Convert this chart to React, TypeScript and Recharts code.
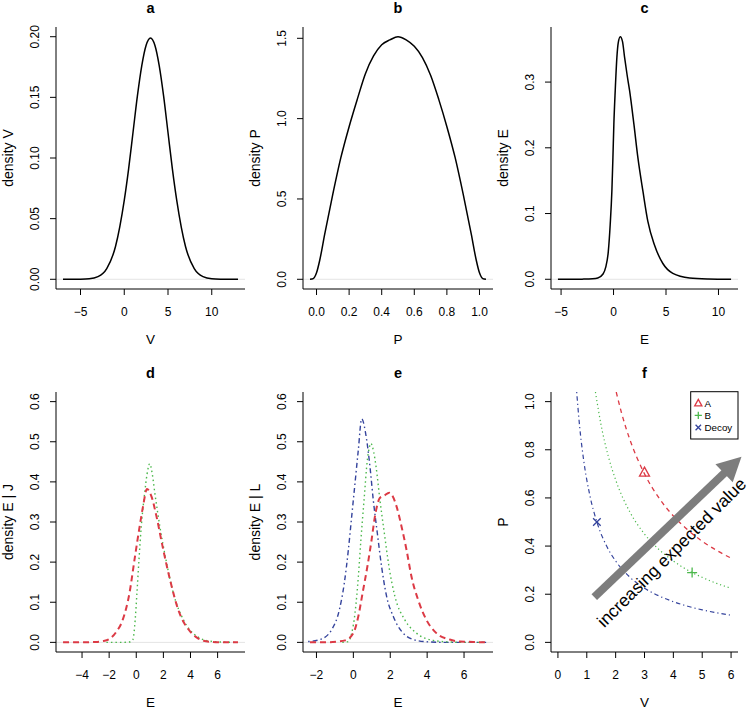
import React from 'react';
import { ComposedChart, Line, Scatter, XAxis, YAxis, ReferenceLine } from 'recharts';

const FONT = '"Liberation Sans", Arial, Helvetica, sans-serif';
const RED = '#dc3a45';
const GREEN = '#4cb84c';
const BLUE = '#34439c';
const GREY = '#7d7d7d';

// a: density of V
const vGrid = [-7, -6, -5, -4, -3, -2, -1, 0, 0.5, 1, 1.5, 2, 2.5, 3, 3.5, 4, 4.5, 5, 5.5, 6, 7, 8, 9, 10, 11, 12, 13];
const vDensity = [0, 0.00003, 0.0001, 0.0004, 0.0022, 0.0088, 0.027, 0.065, 0.091, 0.121, 0.151, 0.176, 0.193, 0.199, 0.193, 0.176, 0.151, 0.121, 0.091, 0.065, 0.027, 0.0088, 0.0022, 0.0004, 0.0001, 0.00003, 0];

// b: density of P
const pGrid = [-0.04, -0.02, 0, 0.02, 0.05, 0.1, 0.15, 0.2, 0.25, 0.3, 0.35, 0.4, 0.45, 0.5, 0.55, 0.6, 0.65, 0.7, 0.75, 0.8, 0.85, 0.9, 0.95, 0.98, 1.0, 1.02, 1.04];
const pDensity = [0, 0.004, 0.04, 0.12, 0.28, 0.53, 0.76, 0.95, 1.12, 1.28, 1.39, 1.46, 1.49, 1.51, 1.49, 1.45, 1.38, 1.27, 1.12, 0.95, 0.76, 0.53, 0.28, 0.12, 0.04, 0.004, 0];

// c: density of E
const eGridC = [-5.3, -4, -3, -2, -1.5, -1, -0.75, -0.5, -0.32, -0.16, -0.06, 0.03, 0.16, 0.32, 0.45, 0.64, 0.85, 1.05, 1.3, 1.53, 1.94, 2.32, 2.8, 3.27, 3.9, 4.7, 5.65, 7.25, 9, 11.2];
const eDensityC = [0, 0, 0.0002, 0.0008, 0.002, 0.008, 0.018, 0.042, 0.083, 0.134, 0.185, 0.236, 0.287, 0.338, 0.36, 0.369, 0.362, 0.338, 0.31, 0.287, 0.236, 0.185, 0.134, 0.088, 0.052, 0.024, 0.009, 0.002, 0.0005, 0];

// d: density E | J  (A dashed, B dotted)
const eGridJA = [-5.4, -4, -3, -2.5, -2, -1.5, -1, -0.5, -0.13, 0.25, 0.5, 0.79, 1.12, 1.49, 1.99, 2.49, 3.1, 3.5, 3.98, 4.5, 4.97, 5.5, 6.5, 7.5];
const densJA = [0, 0.0003, 0.001, 0.003, 0.008, 0.025, 0.056, 0.123, 0.206, 0.289, 0.339, 0.382, 0.364, 0.314, 0.231, 0.156, 0.081, 0.05, 0.027, 0.011, 0.004, 0.0015, 0.0003, 0];
const eGridJB = [-2.2, -1, -0.5, -0.25, -0.08, 0.05, 0.2, 0.37, 0.62, 0.8, 0.99, 1.18, 1.37, 1.74, 2.19, 2.73, 3.48, 4.48, 5.47, 6.5, 7.5];
const densJB = [0, 0, 0.001, 0.007, 0.056, 0.123, 0.206, 0.289, 0.372, 0.42, 0.445, 0.42, 0.372, 0.289, 0.206, 0.123, 0.056, 0.015, 0.003, 0.0005, 0];

// e: density E | L  (A dashed, B dotted, Decoy dot-dash)
const eGridLA = [-2.35, -1.6, -0.9, -0.45, 0, 0.27, 0.5, 0.76, 0.99, 1.17, 1.44, 1.65, 1.95, 2.34, 2.61, 2.88, 3.15, 3.51, 3.96, 4.5, 5.22, 5.77, 6.5, 7.2];
const densLA = [0, 0, 0.002, 0.005, 0.023, 0.065, 0.123, 0.189, 0.256, 0.314, 0.36, 0.365, 0.373, 0.339, 0.289, 0.231, 0.164, 0.106, 0.056, 0.023, 0.007, 0.002, 0.001, 0];
const eGridLB = [-0.6, -0.27, -0.09, 0.09, 0.27, 0.41, 0.58, 0.76, 0.86, 0.95, 1.1, 1.23, 1.44, 1.68, 1.93, 2.25, 2.79, 3.42, 4.32, 5.2, 6.2, 7.2];
const densLB = [0, 0.002, 0.023, 0.073, 0.164, 0.256, 0.355, 0.455, 0.485, 0.496, 0.475, 0.438, 0.355, 0.272, 0.189, 0.115, 0.056, 0.023, 0.005, 0.001, 0, 0];
const eGridLD = [-2.45, -1.8, -1.17, -0.76, -0.49, -0.27, -0.09, 0.09, 0.27, 0.45, 0.72, 0.9, 1.08, 1.3, 1.53, 1.8, 2.16, 2.7, 3.42, 4.14, 5, 6, 7.2];
const densLD = [0.002, 0.007, 0.032, 0.081, 0.148, 0.231, 0.314, 0.397, 0.48, 0.557, 0.505, 0.438, 0.355, 0.272, 0.189, 0.115, 0.065, 0.023, 0.005, 0.001, 0, 0, 0];

// f: iso expected value curves and options
const isoVA = [2.02, 2.2, 2.5, 2.75, 3, 3.5, 4, 4.5, 5, 5.5, 6];
const isoPA = [1.04, 0.955, 0.84, 0.764, 0.7, 0.6, 0.525, 0.467, 0.42, 0.382, 0.35];
const isoVB = [1.3, 1.5, 1.75, 2, 2.5, 3, 3.5, 4, 4.65, 5, 5.5, 6];
const isoPB = [1.04, 0.9, 0.771, 0.675, 0.54, 0.45, 0.386, 0.338, 0.29, 0.27, 0.245, 0.225];
const isoVD = [0.65, 0.75, 0.9, 1.1, 1.35, 1.7, 2, 2.5, 3, 3.5, 4, 4.5, 5, 5.5, 6];
const isoPD = [1.04, 0.9, 0.75, 0.614, 0.5, 0.397, 0.338, 0.27, 0.225, 0.193, 0.169, 0.15, 0.135, 0.123, 0.113];
const optionNames = ['A', 'B', 'Decoy'];
const optionV = [3.0, 4.65, 1.35];
const optionP = [0.705, 0.29, 0.5];
const arrowV = [1.26, 6.36];
const arrowP = [0.188, 0.771];

type Pt = { x: number; y: number };
const zip = (xs: number[], ys: number[]): Pt[] => xs.map((x, i) => ({ x, y: ys[i] }));

const fmtInt = (v: number) => (v < 0 ? '\u2212' + Math.abs(v) : String(v));
const fmt1 = (v: number) => v.toFixed(1);
const fmt2 = (v: number) => v.toFixed(2);

interface Curve {
  data: Pt[];
  color: string;
  width: number;
  dash?: string;
}

interface PanelProps {
  left: number;
  top: number;
  right: number;
  bottom: number;
  xDomain: [number, number];
  yDomain: [number, number];
  xTicks: number[];
  yTicks: number[];
  xFmt: (v: number) => string;
  yFmt: (v: number) => string;
  curves: Curve[];
  zeroLine?: boolean;
  padRight?: number;
  children?: React.ReactNode;
}

const AX_W = 56;
const TOP_PAD = 27;
const AX_H = 60;
const TICK_FS = 12;

function Panel(p: PanelProps) {
  const padRight = p.padRight ?? 4;
  const w = p.right - p.left + AX_W + padRight;
  const h = p.bottom - p.top + TOP_PAD + AX_H;
  const xTick = (t: any) => (
    <text x={t.x} y={t.y + 21} textAnchor="middle" fontSize={TICK_FS} fontFamily={FONT} fill="#000">
      {p.xFmt(t.payload.value)}
    </text>
  );
  const yTick = (t: any) => {
    const bx = t.x - 10.7;
    return (
      <text x={bx} y={t.y} transform={`rotate(-90 ${bx} ${t.y})`} textAnchor="middle" fontSize={TICK_FS} fontFamily={FONT} fill="#000">
        {p.yFmt(t.payload.value)}
      </text>
    );
  };
  return (
    <div style={{ position: 'absolute', left: p.left - AX_W, top: p.top - TOP_PAD }}>
      <ComposedChart width={w} height={h} margin={{ top: TOP_PAD, right: padRight, bottom: 0, left: 0 }}>
        <XAxis
          type="number"
          dataKey="x"
          domain={p.xDomain}
          allowDataOverflow
          ticks={p.xTicks}
          interval={0}
          height={AX_H}
          tickSize={6}
          tickMargin={0}
          axisLine={{ stroke: '#000' }}
          tickLine={{ stroke: '#000' }}
          tick={xTick}
        />
        <YAxis
          type="number"
          dataKey="y"
          domain={p.yDomain}
          allowDataOverflow
          ticks={p.yTicks}
          interval={0}
          width={AX_W}
          tickSize={6}
          tickMargin={0}
          axisLine={{ stroke: '#000' }}
          tickLine={{ stroke: '#000' }}
          tick={yTick}
        />
        {p.zeroLine ? <ReferenceLine y={0} stroke="#e4e4e4" strokeWidth={1} /> : null}
        {p.curves.map((c, i) => (
          <Line
            key={i}
            data={c.data}
            dataKey="y"
            type="monotone"
            stroke={c.color}
            strokeWidth={c.width}
            strokeDasharray={c.dash}
            dot={false}
            activeDot={false}
            isAnimationActive={false}
          />
        ))}
        {p.children}
      </ComposedChart>
    </div>
  );
}

function ArrowShape(props: any) {
  const { x1, y1, x2, y2 } = props;
  const dx = x2 - x1;
  const dy = y2 - y1;
  const len = Math.hypot(dx, dy) || 1;
  const ux = dx / len;
  const uy = dy / len;
  const nx = -uy;
  const ny = ux;
  const headLen = 24;
  const headHalf = 12.5;
  const bx = x2 - ux * headLen;
  const by = y2 - uy * headLen;
  // caption sits below-right of the shaft, shifted back towards the tail
  const tx = (x1 + x2) / 2 + nx * 21 - ux * 15;
  const ty = (y1 + y2) / 2 + ny * 21 - uy * 15;
  return (
    <g>
      <line x1={x1} y1={y1} x2={bx + ux} y2={by + uy} stroke={GREY} strokeWidth={8} />
      <polygon
        points={`${x2},${y2} ${bx + nx * headHalf},${by + ny * headHalf} ${bx - nx * headHalf},${by - ny * headHalf}`}
        fill={GREY}
      />
      <text
        x={tx}
        y={ty}
        transform={`rotate(-45 ${tx} ${ty})`}
        textAnchor="middle"
        dominantBaseline="central"
        fontSize={17.5}
        fontFamily={FONT}
        fill="#000"
      >
        increasing expected value
      </text>
    </g>
  );
}

const triangleShape = (s: any) => {
  const k = s.k ?? 1;
  return (
    <path
      d={`M${s.cx},${s.cy - 5.5 * k} L${s.cx + 5 * k},${s.cy + 3.5 * k} L${s.cx - 5 * k},${s.cy + 3.5 * k} Z`}
      fill="none"
      stroke={RED}
      strokeWidth={1.3}
    />
  );
};
const plusShape = (s: any) => {
  const k = s.k ?? 1;
  return <path d={`M${s.cx - 5 * k},${s.cy} H${s.cx + 5 * k} M${s.cx},${s.cy - 5 * k} V${s.cy + 5 * k}`} stroke={GREEN} strokeWidth={1.3} />;
};
const crossShape = (s: any) => {
  const r = 3.8 * (s.k ?? 1);
  return (
    <path
      d={`M${s.cx - r},${s.cy - r} L${s.cx + r},${s.cy + r} M${s.cx - r},${s.cy + r} L${s.cx + r},${s.cy - r}`}
      stroke={BLUE}
      strokeWidth={1.3}
    />
  );
};
const optionShapes = [triangleShape, plusShape, crossShape];

const TOP = { top: 27, bottom: 289 };
const BOT = { top: 392, bottom: 652 };
const COLS = [
  { left: 56, right: 245 },
  { left: 303, right: 493 },
  { left: 551, right: 738 },
];

const titles = ['a', 'b', 'c', 'd', 'e', 'f'];
const xTitles = ['V', 'P', 'E', 'E', 'E', 'V'];
const yTitles = ['density V', 'density P', 'density E', 'density E | J', 'density E | L', 'P'];

function Overlay() {
  const rows = [TOP, BOT];
  const items: React.ReactNode[] = [];
  titles.forEach((t, i) => {
    const row = rows[Math.floor(i / 3)];
    const col = COLS[i % 3];
    const cx = (col.left + col.right) / 2;
    const cy = (row.top + row.bottom) / 2;
    items.push(
      <text key={'t' + i} x={cx} y={row.top - 14} textAnchor="middle" fontSize={14.5} fontWeight="bold" fontFamily={FONT}>
        {t}
      </text>,
      <text key={'x' + i} x={cx} y={row.bottom + 55} textAnchor="middle" fontSize={13.5} fontFamily={FONT}>
        {xTitles[i]}
      </text>,
      <text
        key={'y' + i}
        x={col.left - 43}
        y={cy}
        transform={`rotate(-90 ${col.left - 43} ${cy})`}
        textAnchor="middle"
        fontSize={14}
        fontFamily={FONT}
      >
        {yTitles[i]}
      </text>
    );
  });
  // legend of panel f
  const lx = 690.7;
  const ly = 391.7;
  const rowsY = [403.3, 415.3, 427.5];
  items.push(<rect key="lg" x={lx} y={ly} width={47.3} height={47.3} fill="#fff" stroke="#000" strokeWidth={1} />);
  optionNames.forEach((n, i) => {
    const cy = rowsY[i];
    items.push(
      <g key={'lg' + i}>
        {optionShapes[i]({ cx: 698.3, cy: cy, k: 0.72 })}
        <text x={704.5} y={cy + 3.5} fontSize={9.8} fontFamily={FONT}>
          {n}
        </text>
      </g>
    );
  });
  return (
    <svg width={750} height={709} style={{ position: 'absolute', left: 0, top: 0, pointerEvents: 'none' }}>
      {items}
    </svg>
  );
}

export default function App() {
  return (
    <div style={{ position: 'absolute', left: 0, top: 0, width: 750, height: 709, background: '#fff', overflow: 'hidden' }}>
      <Panel
        {...COLS[0]}
        {...TOP}
        xDomain={[-7.8, 13.8]}
        yDomain={[-0.008, 0.208]}
        xTicks={[-5, 0, 5, 10]}
        yTicks={[0, 0.05, 0.1, 0.15, 0.2]}
        xFmt={fmtInt}
        yFmt={fmt2}
        zeroLine
        curves={[{ data: zip(vGrid, vDensity), color: '#000', width: 1.5 }]}
      />
      <Panel
        {...COLS[1]}
        {...TOP}
        xDomain={[-0.083, 1.083]}
        yDomain={[-0.0604, 1.5704]}
        xTicks={[0, 0.2, 0.4, 0.6, 0.8, 1.0]}
        yTicks={[0, 0.5, 1.0, 1.5]}
        xFmt={fmt1}
        yFmt={fmt1}
        zeroLine
        curves={[{ data: zip(pGrid, pDensity), color: '#000', width: 1.5 }]}
      />
      <Panel
        {...COLS[2]}
        {...TOP}
        xDomain={[-5.96, 11.86]}
        yDomain={[-0.0148, 0.3838]}
        xTicks={[-5, 0, 5, 10]}
        yTicks={[0, 0.1, 0.2, 0.3]}
        xFmt={fmtInt}
        yFmt={fmt1}
        zeroLine
        curves={[{ data: zip(eGridC, eDensityC), color: '#000', width: 1.5 }]}
      />
      <Panel
        {...COLS[0]}
        {...BOT}
        xDomain={[-5.92, 8.02]}
        yDomain={[-0.024, 0.624]}
        xTicks={[-4, -2, 0, 2, 4, 6]}
        yTicks={[0, 0.1, 0.2, 0.3, 0.4, 0.5, 0.6]}
        xFmt={fmtInt}
        yFmt={fmt1}
        zeroLine
        curves={[
          { data: zip(eGridJB, densJB), color: GREEN, width: 1.4, dash: '1.5 3' },
          { data: zip(eGridJA, densJA), color: RED, width: 2, dash: '6 4' },
        ]}
      />
      <Panel
        {...COLS[1]}
        {...BOT}
        xDomain={[-2.73, 7.57]}
        yDomain={[-0.024, 0.624]}
        xTicks={[-2, 0, 2, 4, 6]}
        yTicks={[0, 0.1, 0.2, 0.3, 0.4, 0.5, 0.6]}
        xFmt={fmtInt}
        yFmt={fmt1}
        zeroLine
        curves={[
          { data: zip(eGridLD, densLD), color: BLUE, width: 1.4, dash: '1.5 3 5 3' },
          { data: zip(eGridLB, densLB), color: GREEN, width: 1.4, dash: '1.5 3' },
          { data: zip(eGridLA, densLA), color: RED, width: 2, dash: '6 4' },
        ]}
      />
      <Panel
        {...COLS[2]}
        {...BOT}
        xDomain={[-0.24, 6.24]}
        yDomain={[-0.04, 1.04]}
        xTicks={[0, 1, 2, 3, 4, 5, 6]}
        yTicks={[0, 0.2, 0.4, 0.6, 0.8, 1.0]}
        xFmt={fmtInt}
        yFmt={fmt1}
        padRight={12}
        curves={[
          { data: zip(isoVD, isoPD), color: BLUE, width: 1.2, dash: '1.2 3 4.5 3' },
          { data: zip(isoVB, isoPB), color: GREEN, width: 1.2, dash: '1.2 2.8' },
          { data: zip(isoVA, isoPA), color: RED, width: 1.3, dash: '4.5 4' },
        ]}
      >
        {optionNames.map((n, i) => (
          <Scatter
            key={n}
            name={n}
            data={[{ x: optionV[i], y: optionP[i] }]}
            dataKey="y"
            shape={optionShapes[i]}
            isAnimationActive={false}
          />
        ))}
        <ReferenceLine
          segment={[
            { x: arrowV[0], y: arrowP[0] },
            { x: arrowV[1], y: arrowP[1] },
          ]}
          ifOverflow="visible"
          shape={ArrowShape}
        />
      </Panel>
      <Overlay />
    </div>
  );
}
